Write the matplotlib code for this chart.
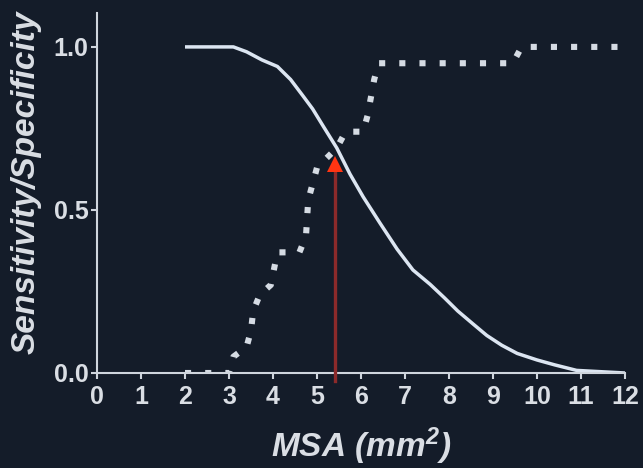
import matplotlib
matplotlib.use("Agg")
import matplotlib.pyplot as plt

# Specificity (solid) curve
spec_x = [2.0, 3.1, 3.4, 3.75, 4.1, 4.4, 4.68, 4.9, 5.15, 5.45, 5.75, 6.05, 6.43,
          6.82, 7.18, 7.57, 7.9, 8.2, 8.55, 8.86, 9.2, 9.55, 10.0, 10.4, 10.9, 12.0]
spec_y = [1.0, 1.0, 0.985, 0.96, 0.94, 0.90, 0.85, 0.81, 0.755, 0.69, 0.61, 0.54, 0.46,
          0.38, 0.316, 0.272, 0.23, 0.19, 0.15, 0.115, 0.085, 0.06, 0.04, 0.025, 0.008, 0.0]

# Sensitivity (dotted) curve
sens_x = [2.0, 3.0, 3.1, 3.4, 3.5, 3.55, 3.7, 3.95, 4.1, 4.6, 4.75, 4.8, 5.0, 5.45,
          5.65, 6.05, 6.15, 6.3, 6.4, 9.45, 9.65, 12.0]
sens_y = [0.0, 0.0, 0.05, 0.08, 0.13, 0.19, 0.24, 0.27, 0.37, 0.37, 0.42, 0.53, 0.63,
          0.69, 0.74, 0.74, 0.79, 0.90, 0.95, 0.95, 1.0, 1.0]

# Optimal cut-off marker
cutoff_x = 5.4
cutoff_y = 0.66

x_ticks = list(range(0, 13))
y_ticks = [0.0, 0.5, 1.0]

BG = "#141c29"
FG = "#dadee4"

plt.rcParams["font.family"] = ["Liberation Sans", "DejaVu Sans"]
plt.rcParams["mathtext.fontset"] = "custom"
plt.rcParams["mathtext.rm"] = "Liberation Sans:italic:bold"
plt.rcParams["mathtext.it"] = "Liberation Sans:italic:bold"
plt.rcParams["mathtext.bf"] = "Liberation Sans:italic:bold"

fig = plt.figure(figsize=(6.43, 4.68), dpi=100, facecolor=BG)
ax = fig.add_axes([97 / 643, 95 / 468, 528 / 643, 360 / 468], facecolor=BG)

ax.plot(spec_x, spec_y, color="#dce5f1", lw=2.5, solid_capstyle="butt",
        solid_joinstyle="round")
ax.plot(sens_x, sens_y, color="#d5dbe3", lw=4.4, linestyle=(0, (1, 2.3)),
        dash_capstyle="butt")

# Red arrow at the cut-off
ax.plot([cutoff_x, cutoff_x], [-0.025, cutoff_y - 0.04], color="#8c2a2a", lw=2.4,
        clip_on=False, zorder=4)
ax.plot([cutoff_x], [cutoff_y - 0.02], marker="^", ms=11, color="#ff3512",
        markeredgewidth=0, zorder=5, clip_on=False)

ax.set_xlim(0, 12)
ax.set_ylim(0, 1.104)
ax.set_xticks(x_ticks)
ax.set_yticks(y_ticks)
ax.set_yticklabels([f"{v:.1f}" for v in y_ticks])

for s in ["top", "right"]:
    ax.spines[s].set_visible(False)
for s in ["left", "bottom"]:
    ax.spines[s].set_color("#cfd5dd")
    ax.spines[s].set_linewidth(1.5)

ax.tick_params(axis="both", colors="#cfd5dd", length=4, width=1.5, direction="out",
               labelcolor=FG, labelsize=18)
ax.tick_params(axis="x", pad=5)
ax.tick_params(axis="y", pad=2)
for lbl in ax.get_xticklabels() + ax.get_yticklabels():
    lbl.set_fontweight("bold")

ax.set_xlabel(r"MSA (mm$^{\mathbf{2}}$)", fontsize=24, fontweight="bold",
              fontstyle="italic", color=FG)
ax.xaxis.set_label_coords(0.5, -0.145)
ax.set_ylabel("Sensitivity/Specificity", fontsize=24, fontweight="bold",
              fontstyle="italic", color=FG)
ax.yaxis.set_label_coords(-0.104, 0.53)

fig.savefig("out.png", dpi=100, facecolor=BG)
